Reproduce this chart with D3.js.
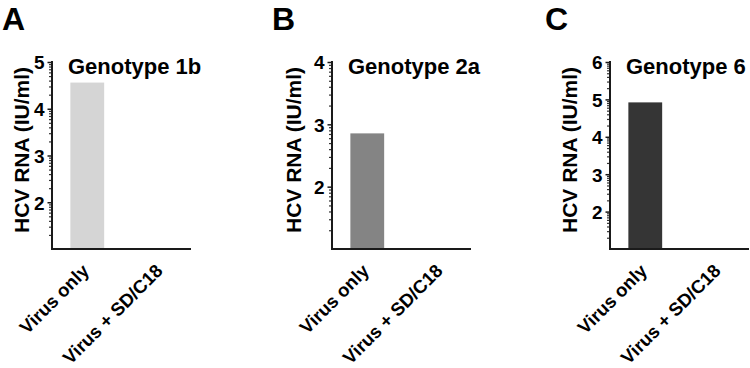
<!DOCTYPE html>
<html>
<head>
<meta charset="utf-8">
<script src="https://cdn.jsdelivr.net/npm/d3@7"></script>
<style>
  body { margin: 0; background: #fff; }
  text { font-family: "Liberation Sans", Arial, sans-serif; font-weight: bold; fill: #000; }
</style>
</head>
<body>
<div id="chart"></div>
<script>
// data (HCV RNA in IU/ml, log axis labelled by exponent)
var categories = ["Virus only", "Virus + SD/C18"];
var letters = ["A", "B", "C"];
var titles = ["Genotype 1b", "Genotype 2a", "Genotype 6"];
var genotype1b = [36300, null];
var genotype2a = [716, null];
var genotype6 = [83200, null];
var topExponent = [5, 4, 6];
var barColors = ["#d5d5d5", "#848484", "#353535"];

var series = [genotype1b, genotype2a, genotype6];

var width = 750;
var height = 368;
var axisX = [52, 332, 610];
var letterX = [2, 272, 545];
var titleOffset = [-30, -38, -40];
var yTop = 62, yBottom = 249;

var svg = d3.select('#chart')
            .append('svg')
            .attr('width', width)
            .attr('height', height);

series.forEach(function(values, i) {
  var g = svg.append('g')
             .attr('transform', 'translate(' + axisX[i] + ',0)');

  var yScale = d3.scaleLog()
                 .domain([10, Math.pow(10, topExponent[i])])
                 .range([yBottom, yTop]);

  var xScale = d3.scaleBand()
                 .domain(categories)
                 .range([0, 144])
                 .paddingInner(0.54)
                 .paddingOuter(0.25);

  // bars
  g.selectAll('rect')
   .data(categories.map(function(c, j) { return {cat: c, value: values[j]}; })
                   .filter(function(d) { return d.value; }))
   .enter()
   .append('rect')
   .attr('x', function(d) { return xScale(d.cat); })
   .attr('width', xScale.bandwidth())
   .attr('y', function(d) { return yScale(d.value); })
   .attr('height', function(d) { return yBottom - yScale(d.value); })
   .attr('fill', barColors[i]);

  // minor log ticks
  var minor = [];
  for (var e = 1; e < topExponent[i]; e++) {
    for (var k = 2; k <= 9; k++) minor.push(k * Math.pow(10, e));
  }
  var major = d3.range(2, topExponent[i] + 1).map(function(e) { return Math.pow(10, e); });

  g.append('g')
   .call(d3.axisLeft(yScale).tickValues(minor).tickSize(3).tickFormat(''))
   .call(function(s) {
     s.select('.domain').remove();
     s.selectAll('line').attr('stroke', '#333').attr('stroke-width', 1.2);
   });

  var yAxis = d3.axisLeft(yScale)
                .tickValues(major)
                .tickSize(4.5)
                .tickPadding(3)
                .tickFormat(function(d) { return Math.round(Math.log10(d)); });

  g.append('g')
   .attr('class', 'y axis')
   .call(yAxis)
   .call(function(s) {
     s.select('.domain').attr('stroke', '#1a1a1a').attr('stroke-width', 2)
      .attr('d', 'M0,' + (yTop - 1) + 'V' + (yBottom + 1));
     s.selectAll('line').attr('stroke', '#1a1a1a').attr('stroke-width', 1.5);
     s.selectAll('text').style('font-size', '19px').attr('dy', '0.36em');
   });

  // x axis baseline
  g.append('line')
   .attr('x1', -1).attr('x2', 139)
   .attr('y1', yBottom).attr('y2', yBottom)
   .attr('stroke', '#1a1a1a')
   .attr('stroke-width', 2);

  // rotated category labels
  g.selectAll('.xlab')
   .data(categories)
   .enter()
   .append('text')
   .attr('class', 'xlab')
   .attr('text-anchor', 'end')
   .attr('transform', function(d) {
     return 'translate(' + (xScale(d) + xScale.bandwidth() / 2 + 3) + ',' + (yBottom + 23) + ') rotate(-45)';
   })
   .style('font-size', '18.5px')
   .text(function(d) { return d; });

  // axis title
  g.append('text')
   .attr('text-anchor', 'middle')
   .attr('transform', 'translate(' + titleOffset[i] + ',150) rotate(-90)')
   .attr('dy', '0.35em')
   .style('font-size', '21px')
   .text('HCV RNA (IU/ml)');

  // panel title
  g.append('text')
   .attr('x', 16)
   .attr('y', 74)
   .style('font-size', '22px')
   .text(titles[i]);

  svg.append('text')
     .attr('x', letterX[i])
     .attr('y', 29.5)
     .style('font-size', '32px')
     .text(letters[i]);
});
</script>
</body>
</html>
